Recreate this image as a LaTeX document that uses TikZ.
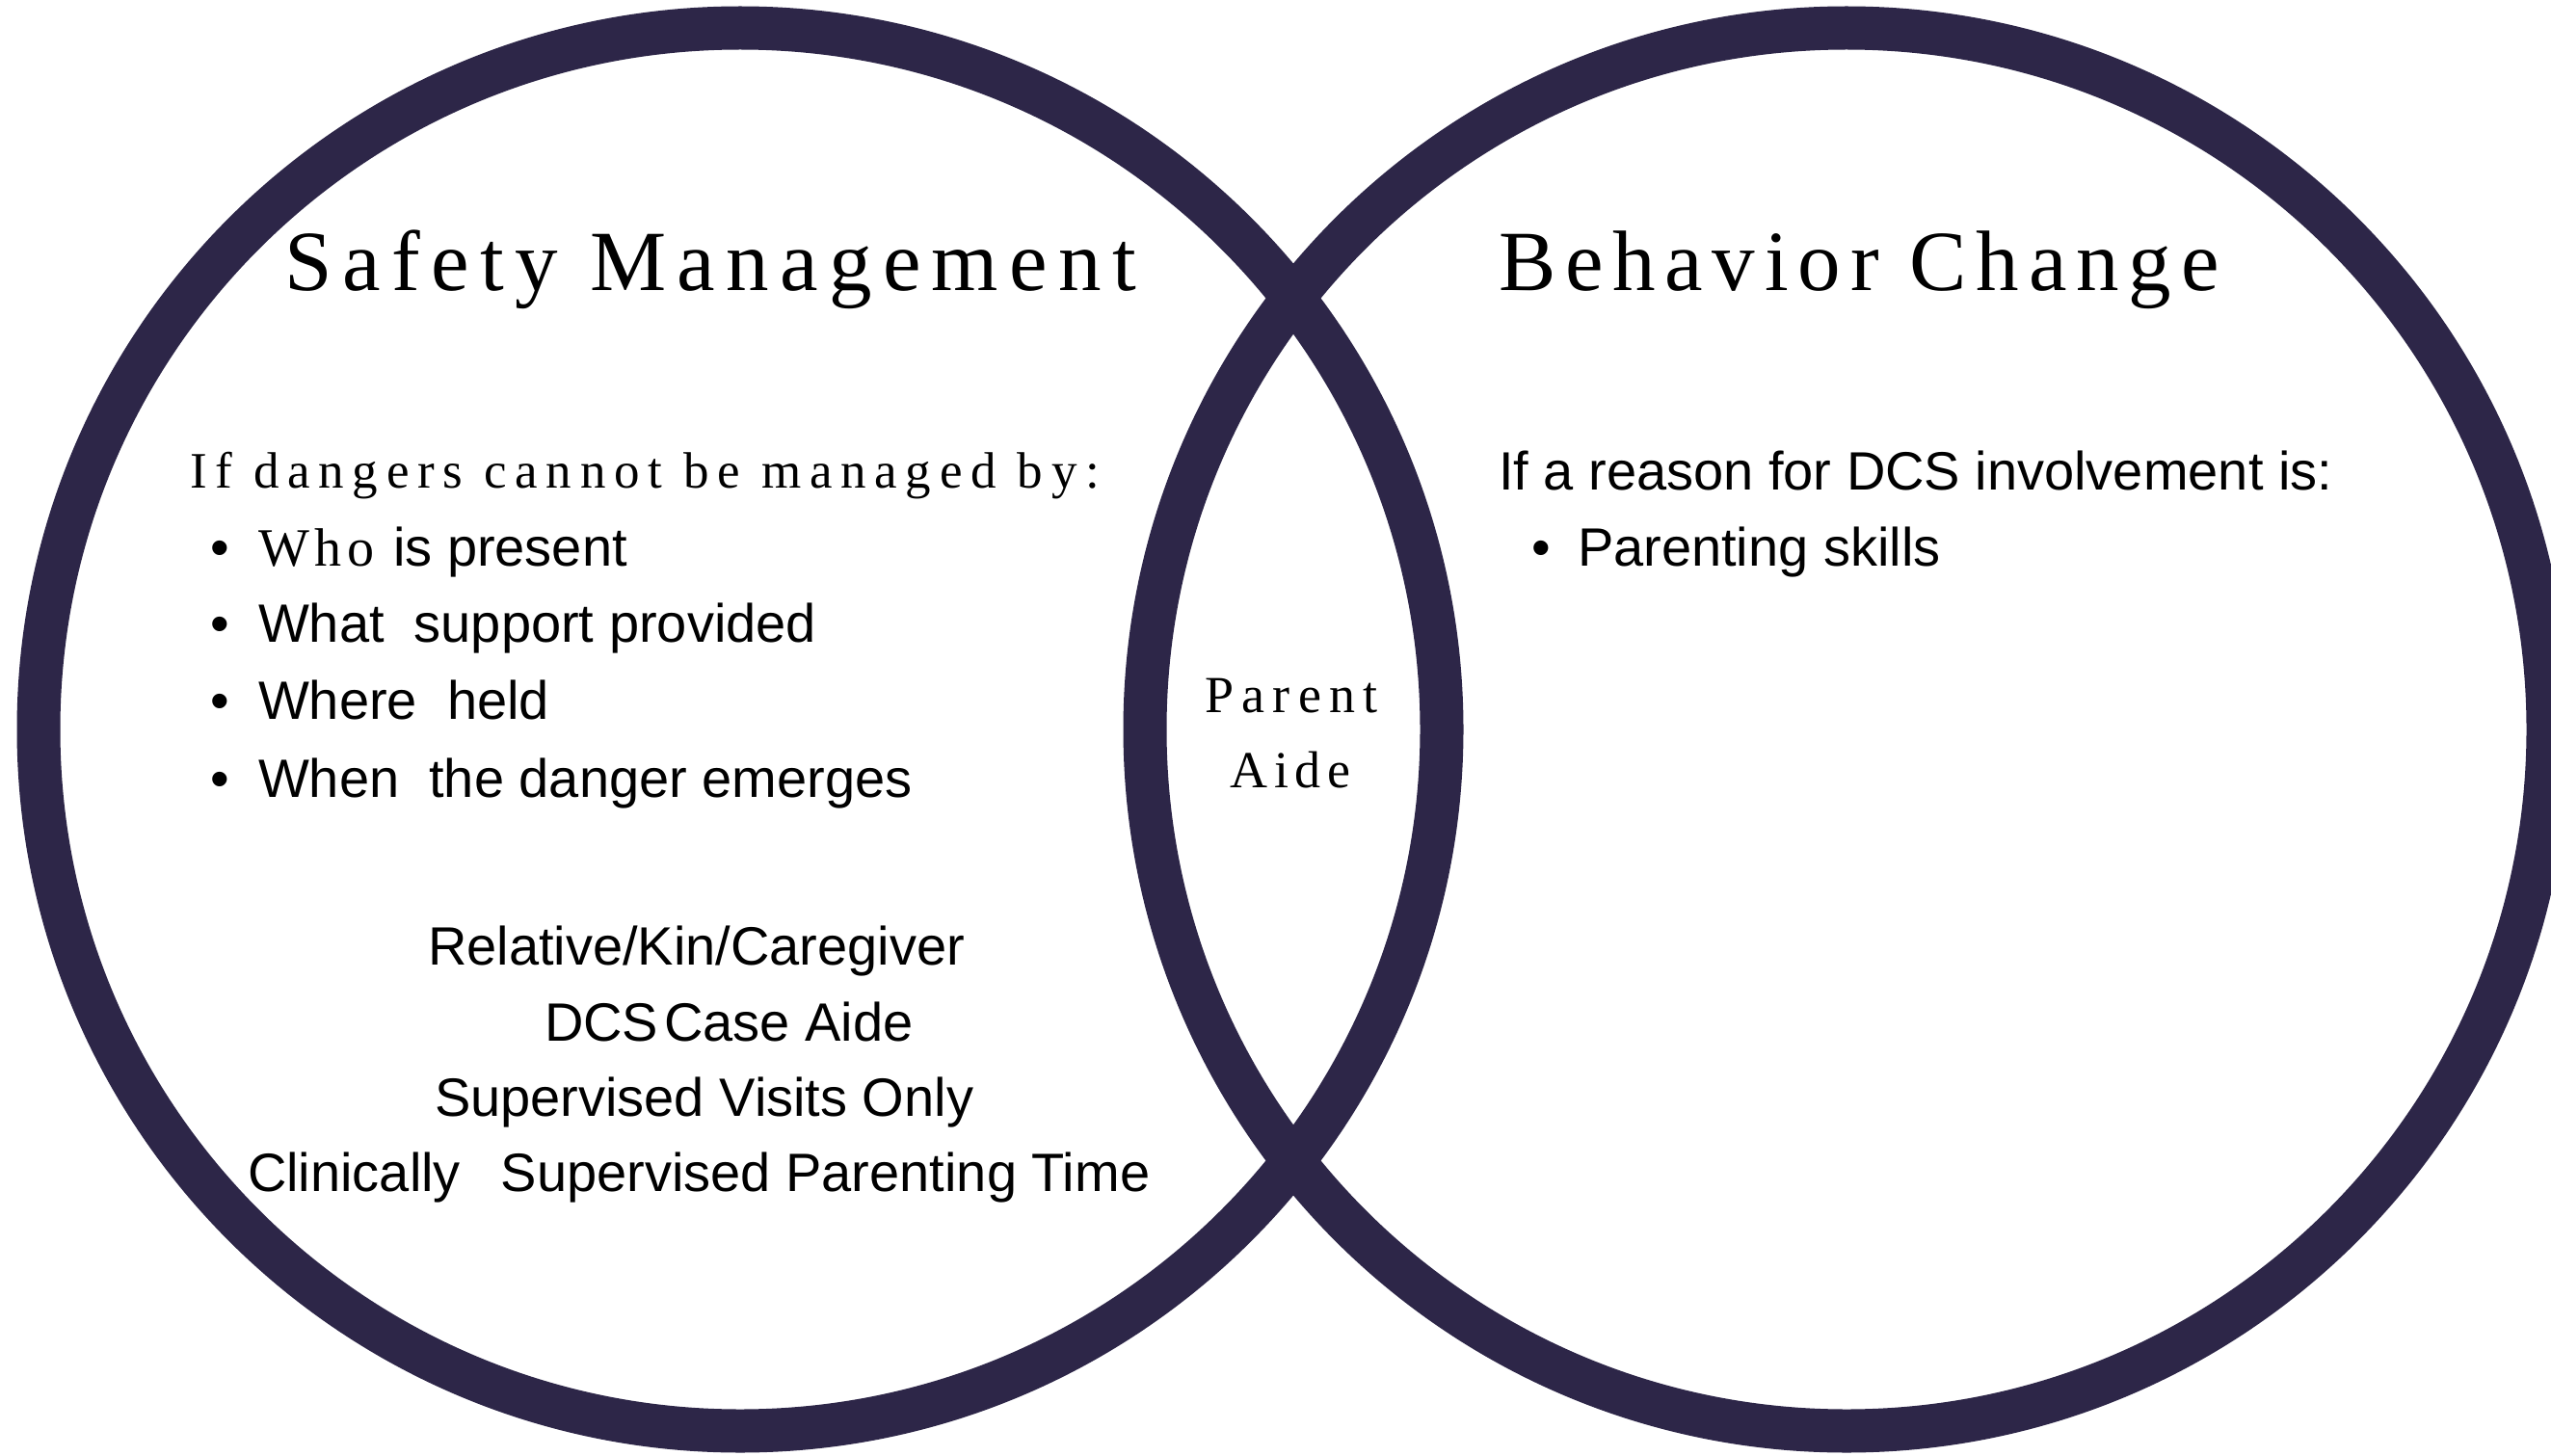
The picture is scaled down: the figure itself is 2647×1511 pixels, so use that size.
\documentclass[tikz,border=0pt]{standalone}
\usepackage{fontspec}
\setmainfont{Liberation Serif}
\setsansfont{Liberation Sans}
\newfontfamily\titlefont[LetterSpace=12.7]{Liberation Serif}
\newfontfamily\titlefontb[LetterSpace=11]{Liberation Serif}
\newfontfamily\leadfont[LetterSpace=16.5]{Liberation Serif}
\newfontfamily\whofont[LetterSpace=10]{Liberation Serif}
\newfontfamily\aidefont[LetterSpace=15]{Liberation Serif}
\newfontfamily\aidefontb[LetterSpace=12]{Liberation Serif}
\definecolor{ring}{RGB}{45,38,72}
\tikzset{
  ringline/.style={draw=ring, line width=45pt},
  txt/.style={inner sep=0pt, outer sep=0pt, anchor=base west, font=\sffamily\fontsize{56}{60}\selectfont},
  ttl/.style={inner sep=0pt, outer sep=0pt, anchor=base west, font=\titlefont\fontsize{89}{95}\selectfont},
  ttlb/.style={inner sep=0pt, outer sep=0pt, anchor=base west, font=\titlefontb\fontsize{89}{95}\selectfont},
  lead/.style={inner sep=0pt, outer sep=0pt, anchor=base west, font=\leadfont\fontsize{53}{58}\selectfont},
  aide/.style={inner sep=0pt, outer sep=0pt, anchor=base, font=\aidefont\fontsize{54}{58}\selectfont},
  aideb/.style={inner sep=0pt, outer sep=0pt, anchor=base, font=\aidefontb\fontsize{54}{58}\selectfont},
  bul/.style={inner sep=0pt, outer sep=0pt, anchor=base west, font=\sffamily\fontsize{56}{60}\selectfont}
}
\begin{document}
\begin{tikzpicture}[x=1pt,y=-1pt]
\useasboundingbox (0,0) rectangle (2647,1511);
\fill[white] (0,0) rectangle (2647,1511);
\draw[ringline] (768,757) circle[radius=728];
\draw[ringline] (1916,757) circle[radius=728];
% titles
\node[ttl] (sm) at (295,302) {Safety Management};
\node[ttlb] (bc) at (1555,302) {Behavior Change};
% left list
\node[lead] (leadL) at (197,506) {If dangers cannot be managed by:};
\node[bul] (b1) at (218,587) {•};
\node[bul] (b2) at (218,666) {•};
\node[bul] (b3) at (218,746) {•};
\node[bul] (b4) at (218,827) {•};
\node[txt] (t1) at (268,587) {{\whofont\fontsize{56}{60}\selectfont Who}\hspace{20pt}is present};
\node[txt] (t2) at (268,666) {What\ \ support provided};
\node[txt] (t3) at (268,746) {Where\ \ held};
\node[txt] (t4) at (268,827) {When\ \ the danger emerges};
% lower block
\node[txt] (r1) at (444,1001) {Relative/Kin/Caregiver};
\node[txt] (r2) at (565,1080) {DCS\hspace{6pt}Case Aide};
\node[txt] (r3) at (451,1158) {Supervised Visits Only};
\node[txt] (r4) at (257,1236) {Clinically\hspace{42pt}Supervised Parenting Time};
% lens
\node[aide] (pa1) at (1340,739) {Parent};
\node[aideb] (pa2) at (1339,817) {Aide};
% right list
\node[txt] (leadR) at (1555,508) {If a reason for DCS involvement is:};
\node[bul] (b5) at (1589,587) {•};
\node[txt] (t5) at (1637,587) {Parenting skills};
\end{tikzpicture}
\end{document}
